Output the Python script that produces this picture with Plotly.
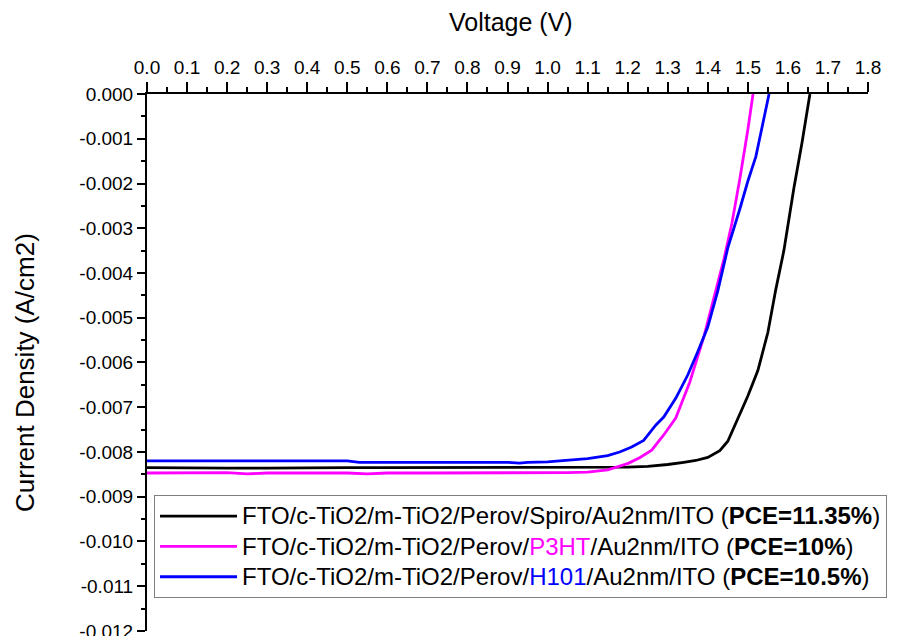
import plotly.graph_objects as go

# ---- data ----
v_spiro = [0, 0.1, 0.2, 0.3, 0.4, 0.5, 0.6, 0.7, 0.8, 0.9, 1.0, 1.1, 1.2, 1.25, 1.3, 1.34,
           1.37, 1.40, 1.43, 1.45, 1.475, 1.50, 1.525, 1.55, 1.57, 1.59, 1.615, 1.635, 1.655]
j_spiro = [-0.00835, -0.00836, -0.00836, -0.00836, -0.00835, -0.00835, -0.00835, -0.00835,
           -0.00835, -0.00834, -0.00835, -0.00834, -0.00834, -0.00832, -0.00828, -0.00823,
           -0.00819, -0.00812, -0.00797, -0.00776, -0.00727, -0.00675, -0.00618, -0.00533,
           -0.00436, -0.00350, -0.00210, -0.00110, 0.0]

v_p3ht = [0, 0.1, 0.2, 0.25, 0.3, 0.4, 0.5, 0.55, 0.6, 0.7, 0.8, 0.9, 1.0, 1.05, 1.1, 1.15,
          1.2, 1.23, 1.26, 1.29, 1.32, 1.355, 1.39, 1.415, 1.44, 1.46, 1.48, 1.50, 1.513]
j_p3ht = [-0.00847, -0.00847, -0.00846, -0.00849, -0.00847, -0.00847, -0.00847, -0.00849,
          -0.00847, -0.00847, -0.00847, -0.00847, -0.00847, -0.00846, -0.00845, -0.00840,
          -0.00826, -0.00813, -0.00796, -0.00762, -0.00724, -0.00644, -0.00543, -0.00455,
          -0.00370, -0.00290, -0.00190, -0.00080, 0.0]

v_h101 = [0, 0.1, 0.2, 0.3, 0.4, 0.5, 0.53, 0.6, 0.7, 0.8, 0.9, 0.93, 0.95, 1.0, 1.05, 1.1,
          1.15, 1.18, 1.21, 1.24, 1.27, 1.29, 1.32, 1.35, 1.375, 1.40, 1.425, 1.45, 1.48,
          1.50, 1.52, 1.553]
j_h101 = [-0.00820, -0.00820, -0.00820, -0.00820, -0.00820, -0.00820, -0.00823, -0.00823,
          -0.00823, -0.00823, -0.00823, -0.00825, -0.00823, -0.00822, -0.00819, -0.00815,
          -0.00808, -0.00800, -0.00789, -0.00774, -0.00740, -0.00722, -0.00680, -0.00628,
          -0.00576, -0.00521, -0.00440, -0.00344, -0.00257, -0.00195, -0.00140, 0.0]

names = [
    "FTO/c-TiO2/m-TiO2/Perov/Spiro/Au2nm/ITO (<b>PCE=11.35%</b>)",
    "FTO/c-TiO2/m-TiO2/Perov/<span style='color:#FF00FF'>P3HT</span>/Au2nm/ITO (<b>PCE=10%</b>)",
    "FTO/c-TiO2/m-TiO2/Perov/<span style='color:#0000FF'>H101</span>/Au2nm/ITO (<b>PCE=10.5%</b>)",
]
colors = ["#000000", "#FF00FF", "#0000FF"]

x_title = "Voltage (V)"
y_title = "Current Density (A/cm2)"

x_ticks = [round(i * 0.1, 1) for i in range(19)]
x_ticktext = [f"{t:.1f}" for t in x_ticks]
y_ticks = [round(-i * 0.001, 3) for i in range(13)]
y_ticktext = ["0.000"] + [f"-{i * 0.001:.3f}" for i in range(1, 13)]

FONT = "Liberation Sans, Arial, sans-serif"

fig = go.Figure()
for v, j, n, c in zip([v_spiro, v_p3ht, v_h101], [j_spiro, j_p3ht, j_h101], names, colors):
    fig.add_trace(go.Scatter(x=v, y=j, mode="lines",
                             name=f"<span style='font-size:24px'>{n}</span>",
                             line=dict(color=c, width=2.8)))

W, H = 897, 636
L, R, T, B = 147, 29, 94, 5
pw, ph = W - L - R, H - T - B

fig.update_layout(
    width=W, height=H,
    margin=dict(l=L, r=R, t=T, b=B, autoexpand=False),
    paper_bgcolor="white", plot_bgcolor="white",
    font=dict(family=FONT, color="black"),
    showlegend=True,
    legend=dict(
        xref="container", yref="container",
        x=154 / W, y=1 - 495 / H, xanchor="left", yanchor="top",
        bordercolor="#7f7f7f", borderwidth=1, bgcolor="white",
        font=dict(family=FONT, size=21, color="black"),
        itemwidth=77, tracegroupgap=0,
    ),
    xaxis=dict(
        side="top", range=[0, 1.8],
        tickvals=x_ticks, ticktext=x_ticktext,
        ticks="outside", ticklen=10, tickwidth=1.5, tickcolor="black",
        minor=dict(dtick=0.05, ticks="outside", ticklen=5, tickwidth=1.5, tickcolor="black"),
        showline=True, linewidth=2, linecolor="black",
        showgrid=False, zeroline=False, automargin=False,
        tickfont=dict(size=19), ticklabeloverflow="allow",
    ),
    yaxis=dict(
        range=[-0.0120005, 0],
        tickvals=y_ticks, ticktext=y_ticktext,
        ticks="outside", ticklen=8, tickwidth=1.5, tickcolor="black",
        minor=dict(dtick=0.0005, tick0=0, ticks="outside", ticklen=4, tickwidth=1.5, tickcolor="black"),
        showline=True, linewidth=2, linecolor="black",
        showgrid=False, zeroline=False, automargin=False,
        tickfont=dict(size=19), ticklabeloverflow="allow",
    ),
    annotations=[
        dict(text=x_title, xref="paper", yref="paper",
             x=(511 - L) / pw, y=1 + (T - 22) / ph, xanchor="center", yanchor="middle",
             showarrow=False, font=dict(size=25, family=FONT, color="black")),
        dict(text=y_title, xref="paper", yref="paper", textangle=-90,
             x=(25 - L) / pw, y=1 - (373 - T) / ph, xanchor="center", yanchor="middle",
             showarrow=False, font=dict(size=26, family=FONT, color="black")),
    ],
)

fig.write_html("out.html")
